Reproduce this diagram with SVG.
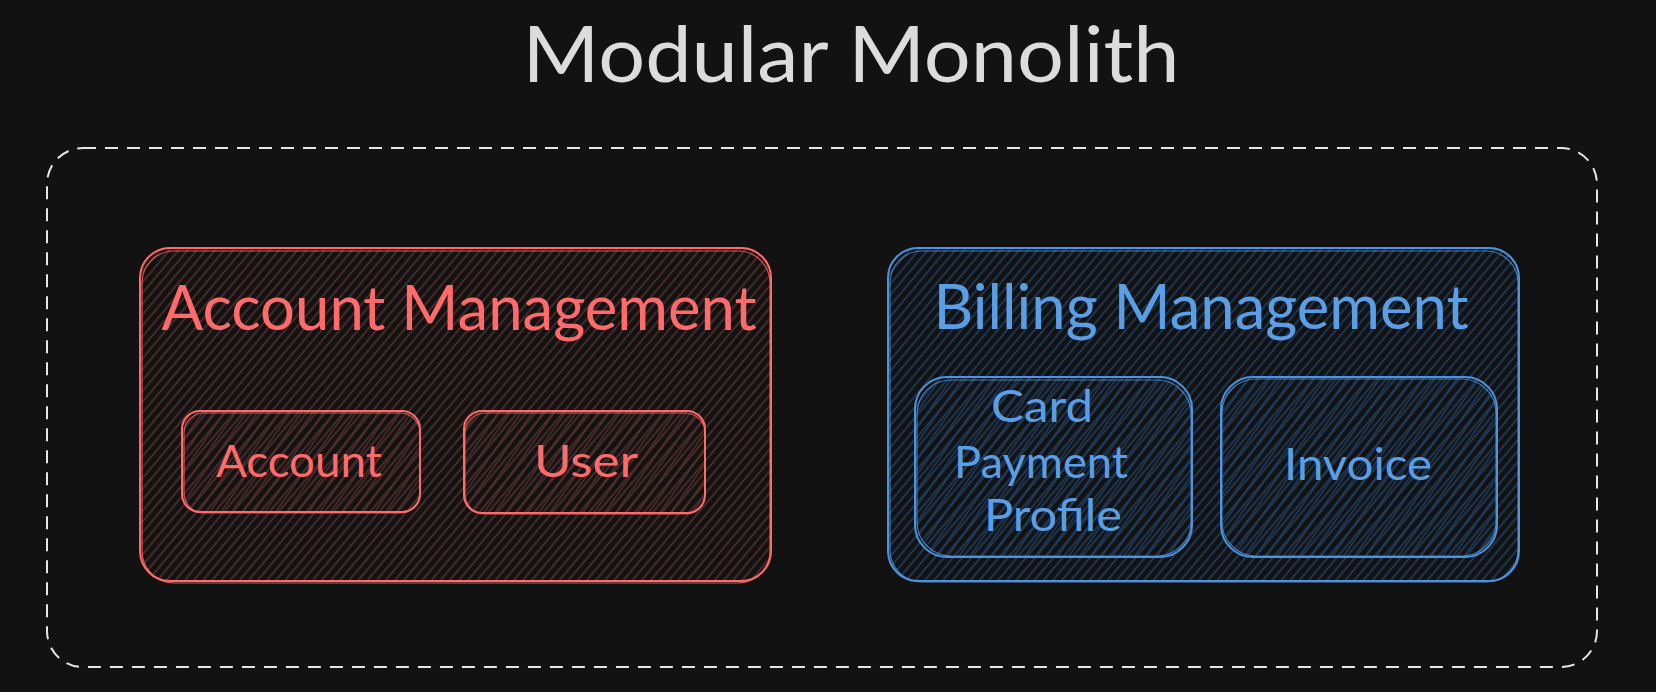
<svg xmlns="http://www.w3.org/2000/svg" width="1656" height="692" viewBox="0 0 1656 692">
  <defs>
    <pattern id="hatchRed" patternUnits="userSpaceOnUse" width="7" height="7" patternTransform="rotate(-50)">
      <line x1="0" y1="3.5" x2="7" y2="3.5" stroke="#55302f" stroke-width="1.6"/>
    </pattern>
    <pattern id="hatchBlue" patternUnits="userSpaceOnUse" width="7" height="7" patternTransform="rotate(-50)">
      <line x1="0" y1="3.5" x2="7" y2="3.5" stroke="#213f62" stroke-width="1.6"/>
    </pattern>
    <pattern id="hatchRed2" patternUnits="userSpaceOnUse" width="9" height="9" patternTransform="rotate(-55) translate(0 2)">
      <line x1="0" y1="4.5" x2="9" y2="4.5" stroke="#55302f" stroke-width="1.4"/>
    </pattern>
    <pattern id="hatchBlue2" patternUnits="userSpaceOnUse" width="9" height="9" patternTransform="rotate(-55) translate(0 2)">
      <line x1="0" y1="4.5" x2="9" y2="4.5" stroke="#213f62" stroke-width="1.4"/>
    </pattern>
  </defs>
  <style>
    .txt { font-family: "Lato", "Noto Sans", "DejaVu Sans", sans-serif; text-anchor: middle; }
    .title { fill: #dcdcdc; font-size: 78px; }
    .red { fill: #ff6b6b; }
    .blue { fill: #5a9ee6; }
    .big { font-size: 62px; }
    .small { font-size: 44px; }
    .redBox { fill: url(#hatchRed); stroke: #ff6b6b; stroke-width: 2; }
    .redInner { fill: url(#hatchRed2); stroke: #ff6b6b; stroke-width: 2; }
    .blueBox { fill: url(#hatchBlue); stroke: #4f93dc; stroke-width: 2; }
    .blueInner { fill: url(#hatchBlue2); stroke: #4f93dc; stroke-width: 2; }
    .ghostRed { fill: none; stroke: #ff6b6b; stroke-width: 1.2; opacity: 0.8; }
    .ghostBlue { fill: none; stroke: #4f93dc; stroke-width: 1.2; opacity: 0.8; }
    .outer { fill: none; stroke: #e6e6e6; stroke-width: 2; stroke-dasharray: 13 9; }
  </style>
  <rect width="1656" height="692" fill="#121212"/>

  <g id="title">
    <text class="txt title" x="851" y="82" textLength="657" lengthAdjust="spacingAndGlyphs">Modular Monolith</text>
  </g>

  <g id="monolith">
    <rect class="outer" x="47" y="148" width="1550" height="519" rx="36" ry="36"/>
  </g>

  <g id="account-management">
    <rect class="redBox" x="140" y="248" width="631" height="333" rx="30" ry="30"/>
    <rect class="ghostRed" x="142" y="251" width="628" height="332" rx="32" ry="32"/>
    <text class="txt red big" x="459" y="330" textLength="595" lengthAdjust="spacingAndGlyphs">Account Management</text>
  </g>

  <g id="account">
    <rect class="redInner" x="182" y="411" width="238" height="101" rx="18" ry="18"/>
    <rect class="ghostRed" x="184" y="413" width="236" height="100" rx="20" ry="20"/>
    <text class="txt red small" x="299" y="477" textLength="166" lengthAdjust="spacingAndGlyphs">Account</text>
  </g>

  <g id="user">
    <rect class="redInner" x="464" y="411" width="241" height="102" rx="18" ry="18"/>
    <rect class="ghostRed" x="465" y="413" width="240" height="101" rx="20" ry="20"/>
    <text class="txt red small" x="586" y="477" textLength="104" lengthAdjust="spacingAndGlyphs">User</text>
  </g>

  <g id="billing-management">
    <rect class="blueBox" x="888" y="248" width="631" height="333" rx="30" ry="30"/>
    <rect class="ghostBlue" x="890" y="251" width="628" height="331" rx="32" ry="32"/>
    <text class="txt blue big" x="1201" y="329" textLength="535" lengthAdjust="spacingAndGlyphs">Billing Management</text>
  </g>

  <g id="card-payment-profile">
    <rect class="blueInner" x="915" y="377" width="277" height="180" rx="32" ry="32"/>
    <rect class="ghostBlue" x="917" y="380" width="274" height="176" rx="34" ry="34"/>
    <text class="txt blue small" x="1042" y="422" textLength="102" lengthAdjust="spacingAndGlyphs">Card</text>
    <text class="txt blue small" x="1041" y="478" textLength="174" lengthAdjust="spacingAndGlyphs">Payment</text>
    <text class="txt blue small" x="1053" y="531" textLength="138" lengthAdjust="spacingAndGlyphs">Profile</text>
  </g>

  <g id="invoice">
    <rect class="blueInner" x="1221" y="377" width="276" height="180" rx="32" ry="32"/>
    <rect class="ghostBlue" x="1222" y="379" width="274" height="177" rx="34" ry="34"/>
    <text class="txt blue small" x="1358" y="480" textLength="148" lengthAdjust="spacingAndGlyphs">Invoice</text>
  </g>

  <g id="connectors"></g>
</svg>
